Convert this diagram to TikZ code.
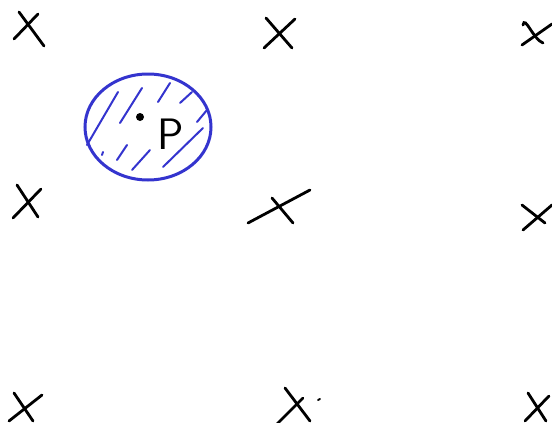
\documentclass[tikz,border=0pt]{standalone}
\usepackage{tikz}
\usetikzlibrary{positioning}
\definecolor{penblue}{RGB}{52,52,206}

\begin{document}
\begin{tikzpicture}[x=1pt,y=-1pt,
  pen/.style={line width=2.8pt,line cap=round,black},
  ring/.style={line width=3pt,penblue},
  hatch/.style={line width=2pt,line cap=round,penblue},
  dot/.style={circle,fill=black,inner sep=0pt,minimum size=8pt}]
\useasboundingbox (0,0) rectangle (552,423);
% top row
\draw[pen] (19,12)--(44,46); \draw[pen] (14,39)--(38,14);
\draw[pen] (266,18)--(292,48); \draw[pen] (264,48)--(295,19);
\draw[pen] (523,25) to[out=80,in=160] (543,43); \draw[pen] (522,45)--(552,24);
% middle row
\draw[pen] (17,185)--(38,217); \draw[pen] (13,218)--(41,189);
\draw[pen] (248,223)--(310,190); \draw[pen] (272,198)--(293,223);
\draw[pen] (522,205)--(545,223); \draw[pen] (523,230)--(552,205);
% bottom row
\draw[pen] (14,393)--(33,421); \draw[pen] (9,421)--(42,395);
\draw[pen] (285,388)--(310,421); \draw[pen] (276,425)--(303,398);
\draw[pen,line width=2pt] (318,400)--(320,399);
\draw[pen] (528,393)--(546,421); \draw[pen] (525,421)--(549,396);
% region round p
\draw[ring] (148,127) ellipse [x radius=63pt,y radius=53pt];
\draw[hatch] (87,145)--(118,92);
\draw[hatch] (120,123)--(142,88);
\draw[hatch] (158,102)--(170,83);
\draw[hatch] (180,103)--(192,92);
\draw[hatch] (197,122)--(207,110);
\draw[hatch] (163,167)--(203,128);
\draw[hatch] (132,170)--(150,150);
\draw[hatch] (117,160)--(127,145);
\draw[hatch] (102,155)--(103,152);
\node[dot] (p) at (140,117) {};
\node[font=\sffamily\fontsize{44}{44}\selectfont,right=10pt of p,yshift=-17pt] (labelP) {P};
\end{tikzpicture}
\end{document}
